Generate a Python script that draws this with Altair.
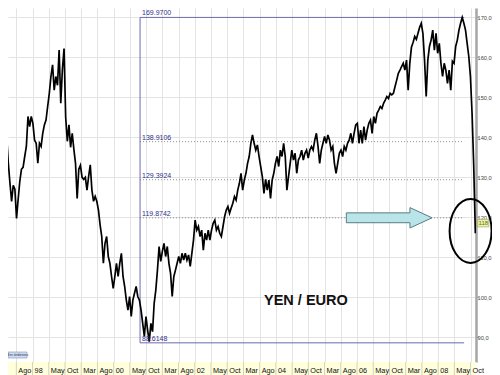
import altair as alt
import pandas as pd

# ---------------- data ----------------
x_labels = ["Mar", "Ago", "98", "May", "Oct", "Mar", "Ago", "00", "May", "Oct",
            "Mar", "Ago", "02", "May", "Oct", "Mar", "Ago", "04", "May", "Oct",
            "Mar", "Ago", "06", "May", "Oct", "Mar", "Ago", "08", "May", "Oct"]
TICK0 = 1997.2          # first labelled tick ("Mar" 1997), decimal years
TICK_STEP = 0.4         # years between labelled ticks
SAMPLE_STEP = 0.4 / 9.9 # about two weeks between price samples

# yen per euro, roughly every two weeks from Mar 1997
part1 = [138.9, 142.0, 143.3, 142.5, 140.2, 133.5, 128.5, 124.0, 128.0, 127.0,
         119.7, 124.5, 129.0, 132.0, 132.5, 135.2, 137.7, 145.2, 142.7, 145.2,
         143.5, 139.3, 138.5, 133.5, 138.5, 137.7, 141.0, 143.1, 144.3, 147.7,
         151.0, 155.2, 158.1, 151.8, 155.2, 153.0, 161.8, 148.5, 157.0, 162.2,
         145.0, 139.0, 143.1, 137.5, 141.0, 137.0, 133.5, 124.7, 132.0, 133.0,
         130.0, 129.5, 130.0, 126.8, 130.2, 133.1, 126.8, 124.0, 125.2, 124.0,
         121.8, 118.1, 115.2, 108.5, 113.5, 115.2, 110.2, 108.5, 105.2, 102.2,
         105.2, 108.5, 105.2, 108.5, 111.0, 105.2]
part2 = [102.7, 99.3, 96.8, 100.2, 95.2, 99.3, 101.0, 102.7, 100.2, 99.3,
         96.8, 93.5, 90.2, 95.2, 91.8, 88.9, 93.5, 91.4, 98.5, 101.8,
         106.8, 112.7, 109.0, 111.5, 113.5, 110.2, 112.7, 108.5, 106.0, 100.2,
         105.2, 106.8, 108.5, 110.2, 108.5, 111.0, 109.3, 111.0, 109.3, 110.6,
         107.7, 111.0, 114.3, 119.3, 116.8, 117.7, 115.2, 116.8, 111.8, 116.0,
         114.3, 116.8, 114.3, 116.8, 118.5, 119.3, 116.8, 117.7, 116.0, 115.2,
         117.7, 120.2, 121.8, 122.7, 121.0, 122.3, 123.5, 125.2, 124.3, 126.8,
         128.5, 131.0]
part3 = [126.8, 129.3, 131.0, 133.5, 135.2, 138.5, 140.6, 138.5, 136.8, 138.1,
         135.2, 132.7, 130.2, 126.0, 129.5, 126.8, 129.3, 124.7, 129.3, 131.0,
         133.5, 135.2, 132.7, 136.8, 135.2, 138.5, 135.2, 126.8, 130.2, 133.5,
         136.8, 134.3, 136.0, 131.0, 134.3, 135.2, 136.8, 134.3, 136.0, 136.8,
         134.8, 136.8, 137.7, 136.8, 139.3, 141.0, 137.7, 133.5, 136.8, 138.5,
         140.2, 138.5, 140.6, 139.3, 136.8, 137.7, 133.5, 131.0, 133.5, 136.0,
         136.8, 135.2, 137.7, 136.8, 138.5, 139.3, 141.0, 138.5, 141.0, 143.1,
         143.5, 138.5]
part4 = [141.8, 138.5, 142.7, 139.3, 141.8, 143.5, 144.3, 141.0, 145.2, 143.5,
         146.0, 146.8, 147.7, 147.2, 148.5, 149.3, 150.2, 149.7, 151.0, 150.6,
         151.0, 152.7, 154.3, 156.0, 156.8, 157.7, 158.5, 156.8, 159.3, 151.8,
         158.5, 162.5, 163.7, 165.2, 164.5, 166.0, 167.5, 168.5, 166.0, 159.3,
         150.2, 159.3, 162.7, 164.3, 166.8, 161.8, 166.0, 161.0, 163.5, 158.5,
         155.2, 158.5, 156.8, 153.5, 156.8, 151.8, 159.0, 158.5, 162.7, 164.3,
         166.8, 168.5, 169.97, 168.5, 166.8, 163.5, 160.2, 155.2, 146.0, 133.0,
         116.0]

fib_levels = [169.97, 138.9106, 129.3924, 119.8742, 88.6148]
fib_texts = ["169.9700", "138.9106", "129.3924", "119.8742", "88.6148"]
fib_dotted = [False, True, True, True, False]
FIB_T0 = 2000.65
FIB_T1 = 2008.64

title_text = "YEN / EURO"
last_text = "118"
y_ticks = [90, 100, 110, 120, 130, 140, 150, 160, 170]

# ---------------- layout ----------------
W, H = 468, 354
X_MIN = TICK0 + 8 * TICK_STEP / 16.5
X_MAX = TICK0 + 484 * TICK_STEP / 16.5
Y_MIN, Y_MAX = 83.825, 172.325

prices = part1 + part2 + part3 + part4
times = [TICK0 + i * SAMPLE_STEP for i in range(len(prices))]
df = pd.DataFrame({"t": times, "price": prices})

ticks = pd.DataFrame({"t": [TICK0 + k * TICK_STEP for k in range(len(x_labels))],
                      "label": x_labels})
ticks = ticks[ticks["t"] >= X_MIN].reset_index(drop=True)

GRID = "#e3e3e3"
FIBC = "#6b6bb0"
TXTC = "#2f2f8c"

xs = alt.Scale(domain=[X_MIN, X_MAX], nice=False, zero=False)
ys = alt.Scale(domain=[Y_MIN, Y_MAX], nice=False, zero=False)
XA = alt.Axis(values=list(ticks["t"]), grid=True, gridColor=GRID,
              labels=False, ticks=False, domain=False)
YA = alt.Axis(orient="right", values=y_ticks, grid=True, gridColor=GRID,
              labelExpr="replace(format(datum.value, '.1f'), '.', ',')",
              labelFontSize=5.7, labelColor="#444", labelFont="Liberation Sans",
              labelPadding=-1, tickSize=2, tickColor="#777",
              domainColor="#a6a6a6", domainWidth=2.5)


def X(field):
    return alt.X(field, type="quantitative", scale=xs, axis=XA, title=None)


def Y(field):
    return alt.Y(field, type="quantitative", scale=ys, axis=YA, title=None)


one = pd.DataFrame({"a": [0]})

# yellow strip under the plot for the time labels
strip = alt.Chart(one).mark_rect(color="#ffffdc").encode(
    x=alt.value(0), x2=alt.value(W), y=alt.value(H), y2=alt.value(H + 14))
strip_ticks = alt.Chart(ticks).mark_rule(color="#d2d2c0", strokeWidth=1).encode(
    x=X("t"), y=alt.value(H), y2=alt.value(H + 14))
strip_labels = alt.Chart(ticks).mark_text(
    align="left", baseline="alphabetic", dx=2, fontSize=7.3,
    font="Liberation Sans", color="#111"
).encode(x=X("t"), y=alt.value(H + 11), text="label:N")

price = alt.Chart(df).mark_line(color="black", strokeWidth=1.7, clip=True).encode(
    x=X("t"), y=Y("price"))

fib = pd.DataFrame({"level": fib_levels, "text": fib_texts, "dotted": fib_dotted,
                    "t0": [FIB_T0] * 5, "t1": [FIB_T1] * 5})
fib_v = alt.Chart(pd.DataFrame({"t": [FIB_T0], "a": [fib_levels[0]], "b": [fib_levels[-1]]})
                  ).mark_rule(color=FIBC, strokeWidth=1).encode(
    x=X("t"), y=Y("a"), y2="b:Q")
fib_solid = alt.Chart(fib[~fib["dotted"]]).mark_rule(color=FIBC, strokeWidth=1).encode(
    x=X("t0"), x2="t1:Q", y=Y("level"))
fib_dot = alt.Chart(fib[fib["dotted"]]).mark_rule(
    color="#8a8a8a", strokeWidth=1, strokeDash=[1, 2]).encode(
    x=X("t0"), x2="t1:Q", y=Y("level"))
fib_txt = alt.Chart(fib).mark_text(
    align="left", baseline="bottom", dx=2, dy=-1, fontSize=7,
    font="Liberation Sans", color=TXTC).encode(
    x=X("t0"), y=Y("level"), text="text:N")

# block arrow pointing right along the 119.87 line
ARROW_PATH = ("M-1,-0.115L0.484,-0.115L0.484,-0.238L1,0L0.484,0.238"
              "L0.484,0.115L-1,0.115Z")
arrow = alt.Chart(pd.DataFrame({"t": [2006.793], "v": [119.8742]})).mark_point(
    shape=ARROW_PATH, size=7350, filled=True, fill="#b9e4e8", fillOpacity=1,
    stroke="#587c84", strokeWidth=1).encode(x=X("t"), y=Y("v"))

# ellipse around the last bars
ELLIPSE_PATH = "M-0.656,0A0.656,1,0,1,0,0.656,0A0.656,1,0,1,0,-0.656,0Z"
ellipse = alt.Chart(pd.DataFrame({"t": [2008.80], "v": [116.6]})).mark_point(
    shape=ELLIPSE_PATH, size=4096, filled=False, stroke="black", strokeWidth=2,
    opacity=1).encode(x=X("t"), y=Y("v"))

# last price box on the axis
last_box = alt.Chart(pd.DataFrame({"t0": [2008.975], "t1": [2009.25],
                                   "v0": [117.6], "v1": [119.5]})).mark_rect(
    fill="#eef2a0", stroke="#9aa060", strokeWidth=0.6).encode(
    x=X("t0"), x2="t1:Q", y=Y("v0"), y2="v1:Q")
last_txt = alt.Chart(pd.DataFrame({"t": [2008.995], "v": [118.55], "s": [last_text]})).mark_text(
    align="left", baseline="middle", fontSize=6, color="#5a7030",
    font="Liberation Sans").encode(x=X("t"), y=Y("v"), text="s:N")

title = alt.Chart(pd.DataFrame({"t": [2004.739], "v": [99.1], "s": [title_text]})).mark_text(
    fontSize=14.5, fontWeight="bold", font="Liberation Sans", color="#111",
    align="center", baseline="middle").encode(x=X("t"), y=Y("v"), text="s:N")

# small "Sin órdenes" button
btn = alt.Chart(one).mark_rect(fill="#cfdcf2", stroke="#8193b8", strokeWidth=0.6).encode(
    x=alt.value(0), x2=alt.value(19), y=alt.value(H - 10), y2=alt.value(H - 4))
btn_txt = alt.Chart(one).mark_text(text="Sin órdenes", fontSize=4, color="#334",
                                   align="center", baseline="middle").encode(
    x=alt.value(9.5), y=alt.value(H - 7))

chart = alt.layer(
    strip, strip_ticks, strip_labels, fib_dot, fib_solid, fib_v, price, fib_txt,
    arrow, ellipse, last_box, last_txt, title, btn, btn_txt
).properties(
    width=W, height=H,
    padding={"left": 0, "top": 0, "right": 484 - W, "bottom": 13},
    autosize=alt.AutoSizeParams(type="none"),
).configure_view(stroke=None)

chart.save("out.html", embed_options={"renderer": "svg", "actions": False})
